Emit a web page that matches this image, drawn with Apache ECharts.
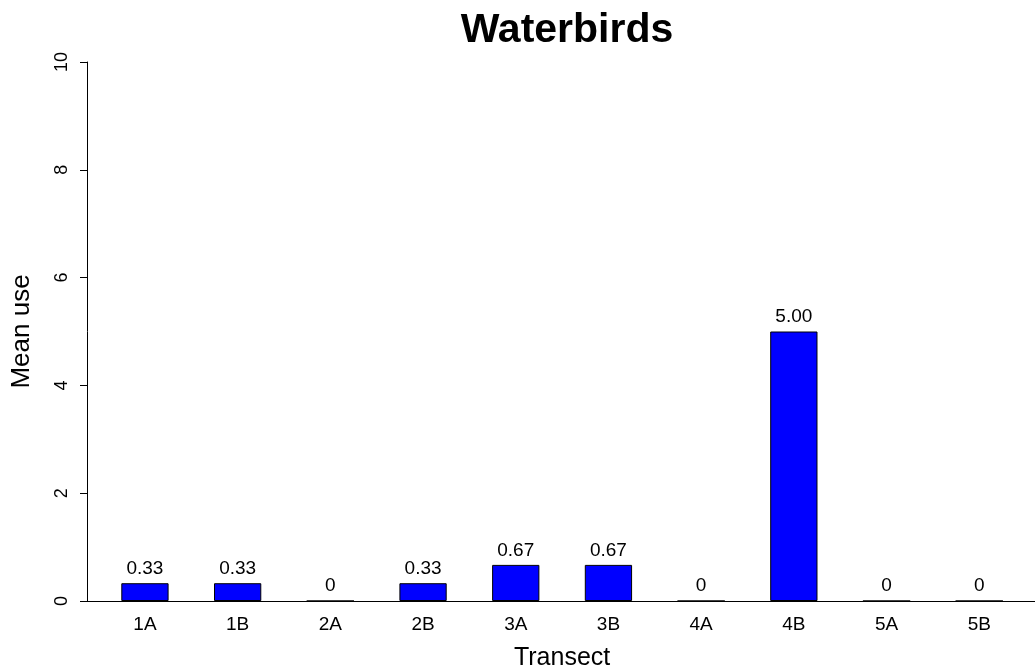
<!DOCTYPE html>
<html>
<head>
<meta charset="utf-8">
<script src="https://cdn.jsdelivr.net/npm/echarts@6/dist/echarts.min.js"></script>
<style>
html,body{margin:0;padding:0;background:#fff;}
#c{width:1035px;height:670px;}
</style>
</head>
<body>
<div id="c"></div>
<script>
var categories = ['1A','1B','2A','2B','3A','3B','4A','4B','5A','5B'];
var meanUse = [0.33, 0.33, 0, 0.33, 0.67, 0.67, 0, 5.00, 0, 0];
var barLabels = ['0.33','0.33','0','0.33','0.67','0.67','0','5.00','0','0'];
var yTicks = [0, 2, 4, 6, 8, 10];

var FONT = '"Liberation Sans", Arial, Helvetica, sans-serif';
var chart = echarts.init(document.getElementById('c'), null, {renderer: 'canvas'});
chart.setOption({
  backgroundColor: '#ffffff',
  animation: false,
  title: {
    text: 'Waterbirds',
    left: 562,
    textAlign: 'center',
    top: 5,
    textStyle: {fontFamily: FONT, fontSize: 41, fontWeight: 'bold', color: '#000'}
  },
  grid: [
    {left: 98.6, right: 9.4, top: 62, bottom: 69, containLabel: false, outerBoundsMode: 'none'},
    {left: 87, right: 0, top: 62, bottom: 69, containLabel: false, outerBoundsMode: 'none'}
  ],
  xAxis: [
    {
      type: 'category', gridIndex: 0, data: categories,
      name: 'Transect', nameLocation: 'middle', nameGap: 45,
      nameTextStyle: {fontFamily: FONT, fontSize: 25, color: '#000'},
      axisLine: {show: false}, axisTick: {show: false},
      axisLabel: {fontFamily: FONT, fontSize: 19, color: '#000', margin: 14}
    },
    {
      type: 'value', gridIndex: 1, min: 0, max: 1,
      axisLine: {show: true, lineStyle: {color: '#000', width: 1}},
      axisTick: {show: false}, axisLabel: {show: false}, splitLine: {show: false}
    }
  ],
  yAxis: [
    {
      type: 'value', gridIndex: 0, min: yTicks[0], max: yTicks[yTicks.length-1], interval: 2,
      offset: 11.6,
      name: 'Mean use', nameLocation: 'middle', nameGap: 52,
      nameTextStyle: {fontFamily: FONT, fontSize: 26, color: '#000'},
      axisLine: {show: true, lineStyle: {color: '#000', width: 1}},
      axisTick: {show: true, length: 7, lineStyle: {color: '#000'}},
      axisLabel: {rotate: 90, fontFamily: FONT, fontSize: 18, color: '#000', margin: 16},
      splitLine: {show: false}
    },
    {
      type: 'value', gridIndex: 1, min: 0, max: 10, show: false
    }
  ],
  series: [{
    type: 'bar',
    xAxisIndex: 0, yAxisIndex: 0,
    data: meanUse,
    barWidth: '51%',
    itemStyle: {color: '#0000ff', borderColor: '#000', borderWidth: 1},
    label: {
      show: true, position: 'top', distance: 5,
      fontFamily: FONT, fontSize: 19, color: '#000',
      formatter: function (p) { return barLabels[p.dataIndex]; }
    }
  }]
});
</script>
</body>
</html>
